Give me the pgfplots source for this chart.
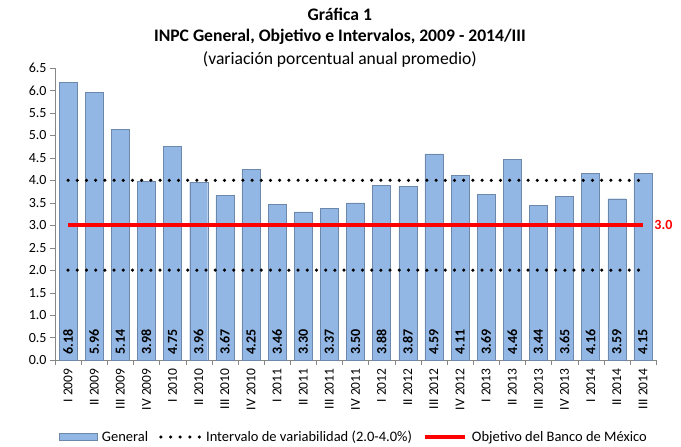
\documentclass[border=0pt]{standalone}
\usepackage{pgfplots}
\usepackage{pgfplotstable}
\usepackage{fontspec}
\setmainfont{Carlito}
\pgfplotsset{compat=1.18}
\definecolor{barfill}{RGB}{146,183,228}
\definecolor{baredge}{RGB}{110,136,172}
\definecolor{axgray}{RGB}{134,134,134}

\pgfplotstableread{
x y z
0 6.18 0
1 5.96 0
2 5.14 0
3 3.98 0
4 4.75 0
5 3.96 0
6 3.67 0
7 4.25 0
8 3.46 0
9 3.30 0
10 3.37 0
11 3.50 0
12 3.88 0
13 3.87 0
14 4.59 0
15 4.11 0
16 3.69 0
17 4.46 0
18 3.44 0
19 3.65 0
20 4.16 0
21 3.59 0
22 4.15 0
}\inpc

\pgfplotstableread{
x lo hi obj
0 2.0 4.0 3.0
22 2.0 4.0 3.0
}\bandas

\begin{document}
\begin{tikzpicture}
\useasboundingbox (-55bp,-87bp) rectangle (626bp,360bp);
\begin{axis}[
  at={(0,0)}, anchor=south west,
  scale only axis,
  width=601bp, height=292bp,
  xmin=-0.5, xmax=22.5,
  ymin=0, ymax=6.5,
  ytick={0,0.5,...,6.5},
  yticklabel style={/pgf/number format/fixed, /pgf/number format/fixed zerofill, /pgf/number format/precision=1, font=\fontsize{14bp}{16bp}\selectfont},
  /pgf/number format/assume math mode=true,
  xtick=data,
  xticklabels={I 2009,II 2009,III 2009,IV 2009,I 2010,II 2010,III 2010,IV 2010,I 2011,II 2011,III 2011,IV 2011,I 2012,II 2012,III 2012,IV 2012,I 2013,II 2013,III 2013,IV 2013,I 2014,II 2014,III 2014},
  xticklabel style={rotate=90, anchor=east, font=\fontsize{13.5bp}{15bp}\selectfont},
  major x tick style={draw=none},
  minor xtick={-0.5,0.5,...,22.5},
  minor x tick style={axgray},
  minor tick length=5bp,
  major tick length=5bp,
  tick align=outside,
  y tick style={axgray},
  axis x line*=bottom, axis y line*=left,
  axis line style={axgray, -},
  clip=false,
  legend style={at={(axis description cs:0.497,0)}, anchor=center, yshift=-77bp, draw=none, fill=none,
    legend columns=3, font=\fontsize{14.5bp}{16bp}\selectfont,
    /tikz/every even column/.append style={column sep=9bp},
    /tikz/every odd column/.append style={column sep=3bp}},
  legend cell align=left,
]
\addplot[ybar, bar width=18bp, fill=barfill, draw=baredge,
  legend image code/.code={\draw[fill=barfill, draw=baredge] (0bp,-3.5bp) rectangle (38bp,3.5bp);}]
  table[x=x, y=y] {\inpc};
\addlegendentry{General}
\addplot[black, line width=3.5bp, line cap=round, dash pattern=on 0bp off 9.2bp,
  legend image code/.code={\draw[black, line width=3.5bp, line cap=round, dash pattern=on 0bp off 9.6bp] (0bp,0bp) -- (38.4bp,0bp);}]
  table[x=x, y=hi] {\bandas};
\addlegendentry{Intervalo de variabilidad (2.0-4.0\%)}
\addplot[red, line width=4bp,
  legend image code/.code={\draw[red, line width=4bp] (0bp,0bp) -- (40bp,0bp);}]
  table[x=x, y=obj] {\bandas};
\addlegendentry{Objetivo del Banco de México}
\addplot[black, line width=3.5bp, line cap=round, dash pattern=on 0bp off 9.2bp, forget plot]
  table[x=x, y=lo] {\bandas};
\addplot[draw=none, forget plot, point meta=explicit,
  nodes near coords={\pgfmathprintnumber[fixed,fixed zerofill,precision=2]{\pgfplotspointmeta}},
  every node near coord/.append style={yshift=5bp, rotate=90, anchor=west, inner sep=0pt,
    font=\fontsize{14bp}{16bp}\selectfont\bfseries}]
  table[x=x, y=z, meta=y] {\inpc};
\node[anchor=west, red, font=\fontsize{14bp}{16bp}\selectfont\bfseries] at (axis cs:22,3.0) {\hspace{8bp}3.0};
\node[font=\fontsize{17.6bp}{20bp}\selectfont\bfseries] at (rel axis cs:0.474,1) [yshift=54bp] {Gráfica 1};
\node[font=\fontsize{17.6bp}{20bp}\selectfont\bfseries] at (rel axis cs:0.474,1) [yshift=31bp] {INPC General, Objetivo e Intervalos, 2009 - 2014/III};
\node[font=\fontsize{17.6bp}{20bp}\selectfont] at (rel axis cs:0.474,1) [yshift=9bp] {(variación porcentual anual promedio)};
\end{axis}
\end{tikzpicture}
\end{document}
